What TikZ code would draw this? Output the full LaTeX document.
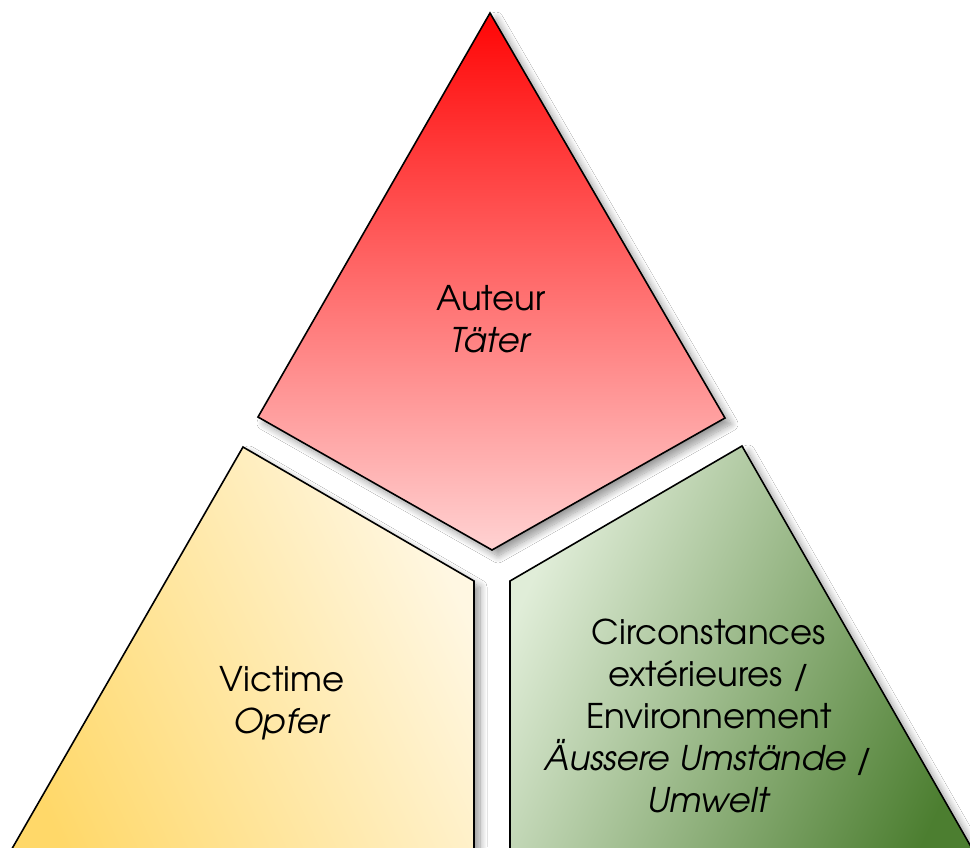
\documentclass[tikz,border=0pt]{standalone}
\usepackage{fontspec}
\setmainfont{TeX Gyre Adventor}
\usetikzlibrary{shadows.blur}
\definecolor{redtop}{RGB}{255,5,5}
\definecolor{redmid}{RGB}{255,150,150}
\definecolor{redbot}{RGB}{255,210,210}
\definecolor{yeldeep}{RGB}{255,216,105}
\definecolor{yellight}{RGB}{255,247,226}
\definecolor{grnlight}{RGB}{224,237,216}
\definecolor{grndark}{RGB}{76,126,48}
\tikzset{
  piece/.style={draw=black, line width=1.6pt, line join=miter,
    blur shadow={shadow xshift=6pt, shadow yshift=-6pt, shadow blur radius=7pt, shadow opacity=40, shadow blur steps=12}},
  label/.style={align=center, font=\fontsize{34}{42}\selectfont, text=black}
}
\begin{document}
\begin{tikzpicture}[x=1pt,y=-1pt]
\clip (0,0) rectangle (970,847);
\fill[white] (0,0) rectangle (970,847);
% top: Auteur
\shade[piece, top color=redtop, middle color=redmid, bottom color=redbot]
  (490,13) -- (725,418) -- (492,550) -- (258,417) -- cycle;
% left: Victime
\shade[piece, left color=yeldeep, right color=yellight, shading angle=115]
  (243,447) -- (474,581) -- (474,880) -- (-6,880) -- cycle;
% right: Circonstances
\shade[piece, left color=grnlight, right color=grndark, shading angle=65]
  (742,446) -- (990,880) -- (510,880) -- (510,581) -- cycle;
\node[label] (auteur) at (491,319) {Auteur\\\textit{Täter}};
\node[label] (victime) at (282,703) {Victime\\\textit{Opfer}};
\node[label] (circ) at (709,716) {Circonstances\\extérieures /\\Environnement\\\textit{Äussere Umstände /}\\\textit{Umwelt}};
\end{tikzpicture}
\end{document}
